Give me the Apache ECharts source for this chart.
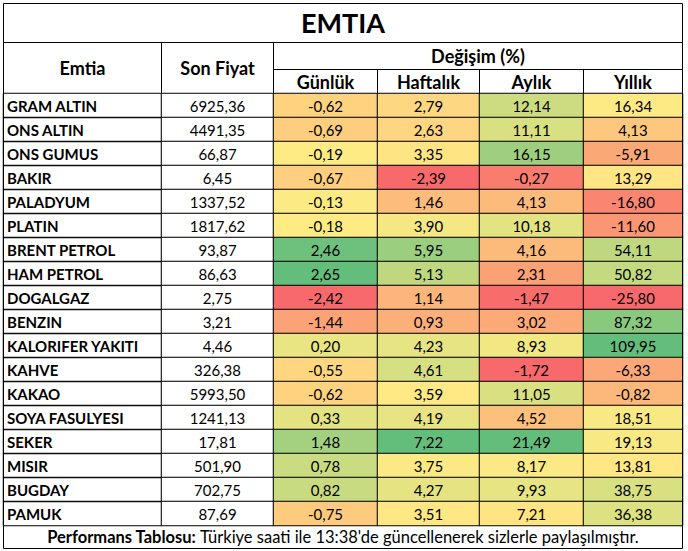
<!DOCTYPE html>
<html>
<head>
<meta charset="utf-8">
<script src="https://cdn.jsdelivr.net/npm/echarts@6/dist/echarts.min.js"></script>
<style>
  html, body { margin: 0; padding: 0; background: #fff; }
  #chart { width: 688px; height: 551px; }
</style>
</head>
<body>
<div id="chart"></div>
<script>
// tablo verisi
const emtia = ['GRAM ALTIN', 'ONS ALTIN', 'ONS GUMUS', 'BAKIR', 'PALADYUM', 'PLATIN', 'BRENT PETROL', 'HAM PETROL', 'DOGALGAZ',
  'BENZIN', 'KALORIFER YAKITI', 'KAHVE', 'KAKAO', 'SOYA FASULYESI', 'SEKER', 'MISIR', 'BUGDAY', 'PAMUK'];
const sonFiyat = [6925.36, 4491.35, 66.87, 6.45, 1337.52, 1817.62, 93.87, 86.63, 2.75, 3.21, 4.46, 326.38, 5993.50, 1241.13, 17.81, 501.90, 702.75, 87.69];
const gunluk = [-0.62, -0.69, -0.19, -0.67, -0.13, -0.18, 2.46, 2.65, -2.42, -1.44, 0.20, -0.55, -0.62, 0.33, 1.48, 0.78, 0.82, -0.75];
const haftalik = [2.79, 2.63, 3.35, -2.39, 1.46, 3.90, 5.95, 5.13, 1.14, 0.93, 4.23, 4.61, 3.59, 4.19, 7.22, 3.75, 4.27, 3.51];
const aylik = [12.14, 11.11, 16.15, -0.27, 4.13, 10.18, 4.16, 2.31, -1.47, 3.02, 8.93, -1.72, 11.05, 4.52, 21.49, 8.17, 9.93, 7.21];
const yillik = [16.34, 4.13, -5.91, 13.29, -16.80, -11.60, 54.11, 50.82, -25.80, 87.32, 109.95, -6.33, -0.82, 18.51, 19.13, 13.81, 38.75, 36.38];
const kolonlar = ['Emtia', 'Son Fiyat', 'Günlük', 'Haftalık', 'Aylık', 'Yıllık'];

const FONT = 'Lato, Carlito, Calibri, "Open Sans", sans-serif';
// kolon sinirlari (px), .5 -> keskin 1px cizgiler
const colX = [3.5, 161.5, 273.5, 377.5, 479.5, 583.5, 682.5];
const TOP = 93.5, ROW_H = 24;

// excel tarzi 3 renk skalasi: kirmizi - sari - yesil (orta nokta medyan)
const RED = [248, 105, 107], YELLOW = [255, 235, 132], GREEN = [99, 190, 123];
function mix(a, b, t) {
  return 'rgb(' + a.map((c, i) => Math.round(c + (b[i] - c) * t)).join(',') + ')';
}
function colorScale(values) {
  const s = values.slice().sort((a, b) => a - b);
  const min = s[0], max = s[s.length - 1];
  const p = (s.length - 1) * 0.5, lo = Math.floor(p);
  const mid = s[lo] + (s[Math.ceil(p)] - s[lo]) * (p - lo);
  return v => v <= mid
    ? mix(RED, YELLOW, mid === min ? 1 : (v - min) / (mid - min))
    : mix(YELLOW, GREEN, (v - mid) / (max - mid));
}
const fmt = v => v.toFixed(2).replace('.', ',');

const columns = [null, sonFiyat, gunluk, haftalik, aylik, yillik];

const grids = [], xAxes = [], yAxes = [], series = [];
columns.forEach((vals, i) => {
  grids.push({ left: colX[i], top: TOP, width: colX[i + 1] - colX[i], height: ROW_H * emtia.length });
  xAxes.push({
    gridIndex: i, type: 'category', data: [kolonlar[i]], position: 'top',
    axisLine: { show: false }, axisTick: { show: false }, splitLine: { show: false },
    axisLabel: {
      interval: 0, margin: i < 2 ? 26 : 12, verticalAlign: 'middle',
      fontFamily: FONT, fontSize: 18, fontWeight: 'bold', color: '#000'
    }
  });
  yAxes.push({
    gridIndex: i, type: 'category', data: emtia, inverse: true, show: i === 0,
    axisLine: { show: false }, axisTick: { show: false }, splitLine: { show: false },
    axisLabel: { inside: true, margin: 3.5, fontFamily: FONT, fontSize: 15, fontWeight: 'bold', color: '#000' },
    z: 10
  });
  let data;
  if (i === 0) {
    data = emtia.map((n, r) => ({ value: [0, r, 0], itemStyle: { color: 'rgba(0,0,0,0)' } }));
  } else if (i === 1) {
    data = vals.map((v, r) => ({ value: [0, r, v], itemStyle: { color: '#fff' } }));
  } else {
    const scale = colorScale(vals);
    data = vals.map((v, r) => ({ value: [0, r, v], itemStyle: { color: scale(v) } }));
  }
  series.push({
    type: 'heatmap', xAxisIndex: i, yAxisIndex: i, data: data,
    itemStyle: { borderColor: '#000', borderWidth: 1 },
    label: {
      show: i > 0, color: '#000', fontFamily: FONT, fontSize: 15,
      formatter: p => fmt(p.value[2])
    },
    emphasis: { disabled: true }
  });
});

const line = (x1, y1, x2, y2) => ({
  type: 'line', shape: { x1, y1, x2, y2 }, style: { stroke: '#000', lineWidth: 1 }, z: 100
});

const chart = echarts.init(document.getElementById('chart'), null, { renderer: 'svg' });
chart.setOption({
  animation: false,
  grid: grids,
  xAxis: xAxes,
  yAxis: yAxes,
  series: series,
  graphic: [
    { type: 'rect', shape: { x: 3.5, y: 3.5, width: 679, height: 545 }, style: { fill: 'none', stroke: '#000', lineWidth: 1 }, z: 100 },
    line(3.5, 42.5, 682.5, 42.5),
    line(273.5, 69.5, 682.5, 69.5),
    line(161.5, 42.5, 161.5, 93.5),
    line(273.5, 42.5, 273.5, 93.5),
    line(377.5, 69.5, 377.5, 93.5),
    line(479.5, 69.5, 479.5, 93.5),
    line(583.5, 69.5, 583.5, 93.5),
    {
      type: 'text', z: 100,
      style: { text: 'EMTIA', x: 343, y: 22, align: 'center', verticalAlign: 'middle',
        fontFamily: FONT, fontSize: 27, fontWeight: 'bold', fill: '#000' }
    },
    {
      type: 'text', z: 100,
      style: { text: 'Değişim (%)', x: 478, y: 56, align: 'center', verticalAlign: 'middle',
        fontFamily: FONT, fontSize: 18, fontWeight: 'bold', fill: '#000' }
    },
    {
      type: 'text', z: 100,
      style: {
        text: '{b|Performans Tablosu:} Türkiye saati ile 13:38\'de güncellenerek sizlerle paylaşılmıştır.',
        x: 343, y: 537, align: 'center', verticalAlign: 'middle',
        fontFamily: FONT, fontSize: 16.5, fill: '#000',
        rich: { b: { fontFamily: FONT, fontSize: 16.5, fontWeight: 'bold', fill: '#000' } }
      }
    }
  ]
});
</script>
</body>
</html>
